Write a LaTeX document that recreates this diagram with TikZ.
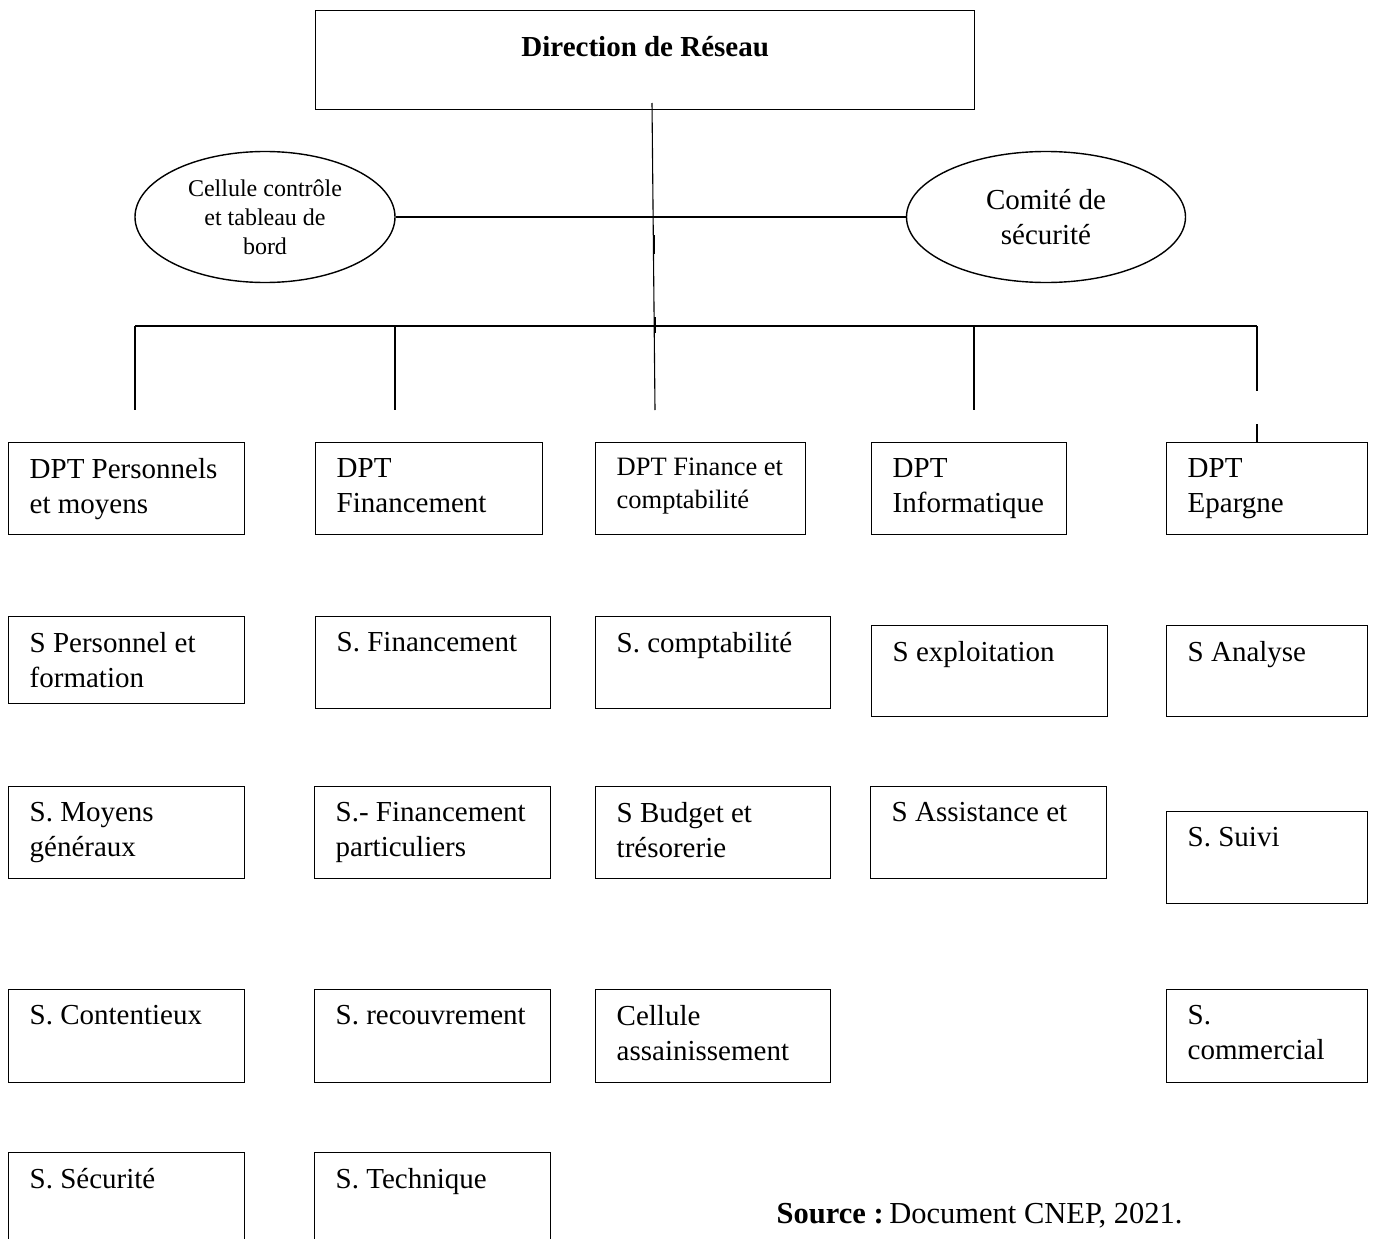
\documentclass[tikz,border=0pt]{standalone}
\usepackage{fontspec}
\setmainfont{Liberation Serif}
\usetikzlibrary{shapes.geometric}

\begin{document}
\begin{tikzpicture}[x=1pt,y=-1pt,line width=1.4pt,
        unit/.style={draw,anchor=north west,inner sep=0pt,minimum height=92pt},
        tag/.style={anchor=north west,align=left,inner sep=0pt,xshift=21pt,yshift=-16pt,
            font=\fontsize{29}{35}\selectfont},
        cell/.style={draw,ellipse,minimum width=260pt,minimum height=131pt,align=center,inner sep=0pt}]
        \useasboundingbox (0,0) rectangle (1373,1239);
        \clip (0,0) rectangle (1373,1239);

        % Direction and staff cells
        \node[unit,minimum width=659pt,minimum height=99pt,
            label={[anchor=north,yshift=-22pt,font=\fontsize{29}{35}\selectfont\bfseries]north:Direction de Réseau}] (dir) at (315,10) {};
        \node[cell,font=\fontsize{24}{29}\selectfont] (ctrl) at (265,217) {Cellule contrôle\\et tableau de\\bord};
        \node[cell,minimum width=279pt,font=\fontsize{29}{35}\selectfont] (secu) at (1046,217) {Comité de\\sécurité};
        \draw (ctrl.east) -- (secu.west);

        % Trunk and bus
        \coordinate (top) at (652,103);
        \coordinate (low) at (655,410);
        \draw[line width=1.1pt] (top) -- (low);
        \draw[line width=2pt] (654,235) -- (654,254);
        \draw[line width=2pt] (655,317) -- (655,333);
        \coordinate (busl) at (135,326);
        \coordinate (busr) at (1257,326);
        \draw[line width=1.7pt] (busl) -- (busr);
        \draw[line width=2.6pt] (1156,326) -- (1175,326);
        \foreach \x in {135,395,974} {
            \draw (\x,326) -- (\x,410);
        }
        \draw (busr) -- (1257,391);
        \coordinate (gap) at (1257,424);

        % Departments
        \node[unit,minimum width=236pt,label={[tag]north west:DPT Personnels\\et moyens}] (pers) at (8,442) {};
        \node[unit,minimum width=227pt,label={[tag]north west:DPT\\Financement}] (fin) at (315,442) {};
        \node[unit,minimum width=210pt,label={[tag,yshift=1pt,font=\fontsize{26.5}{33}\selectfont]north west:DPT Finance et\\comptabilité}] (fico) at (595,442) {};
        \node[unit,minimum width=195pt,label={[tag]north west:DPT\\Informatique}] (info) at (871,442) {};
        \node[unit,minimum width=201pt,label={[tag]north west:DPT\\Epargne}] (epar) at (1166,442) {};
        \draw (gap) -- (gap |- epar.north);

        % Services
        \node[unit,minimum width=236pt,minimum height=87pt,label={[tag]north west:S Personnel et\\formation}] (spf) at (8,616) {};
        \node[unit,minimum width=235pt,label={[tag]north west:S. Financement}] (sfin) at (315,616) {};
        \node[unit,minimum width=235pt,label={[tag]north west:S. comptabilité}] (scpt) at (595,616) {};
        \node[unit,minimum width=236pt,minimum height=91pt,label={[tag]north west:S exploitation}] (sexp) at (871,625) {};
        \node[unit,minimum width=201pt,minimum height=91pt,label={[tag]north west:S Analyse}] (sana) at (1166,625) {};

        \node[unit,minimum width=236pt,label={[tag]north west:S. Moyens\\généraux}] (smg) at (8,786) {};
        \node[unit,minimum width=236pt,label={[tag]north west:S.- Financement\\particuliers}] (sfp) at (314,786) {};
        \node[unit,minimum width=235pt,label={[tag]north west:S Budget et\\trésorerie}] (sbt) at (595,786) {};
        \node[unit,minimum width=236pt,label={[tag]north west:S Assistance et}] (sass) at (870,786) {};
        \node[unit,minimum width=201pt,label={[tag]north west:S. Suivi}] (ssui) at (1166,811) {};

        \node[unit,minimum width=236pt,minimum height=93pt,label={[tag]north west:S. Contentieux}] (scon) at (8,989) {};
        \node[unit,minimum width=236pt,minimum height=93pt,label={[tag]north west:S. recouvrement}] (srec) at (314,989) {};
        \node[unit,minimum width=235pt,minimum height=93pt,label={[tag]north west:Cellule\\assainissement}] (cass) at (595,989) {};
        \node[unit,minimum width=201pt,minimum height=93pt,label={[tag]north west:S.\\commercial}] (scom) at (1166,989) {};

        \node[unit,minimum width=236pt,label={[tag]north west:S. Sécurité}] (ssec) at (8,1152) {};
        \node[unit,minimum width=236pt,label={[tag]north west:S. Technique}] (stec) at (314,1152) {};

        \node[anchor=west,inner sep=0pt,font=\fontsize{30.5}{36}\selectfont] (src) at (776,1216) {\textbf{Source :}\hspace{-0.15em} Document CNEP, 2021.};
\end{tikzpicture}
\end{document}
